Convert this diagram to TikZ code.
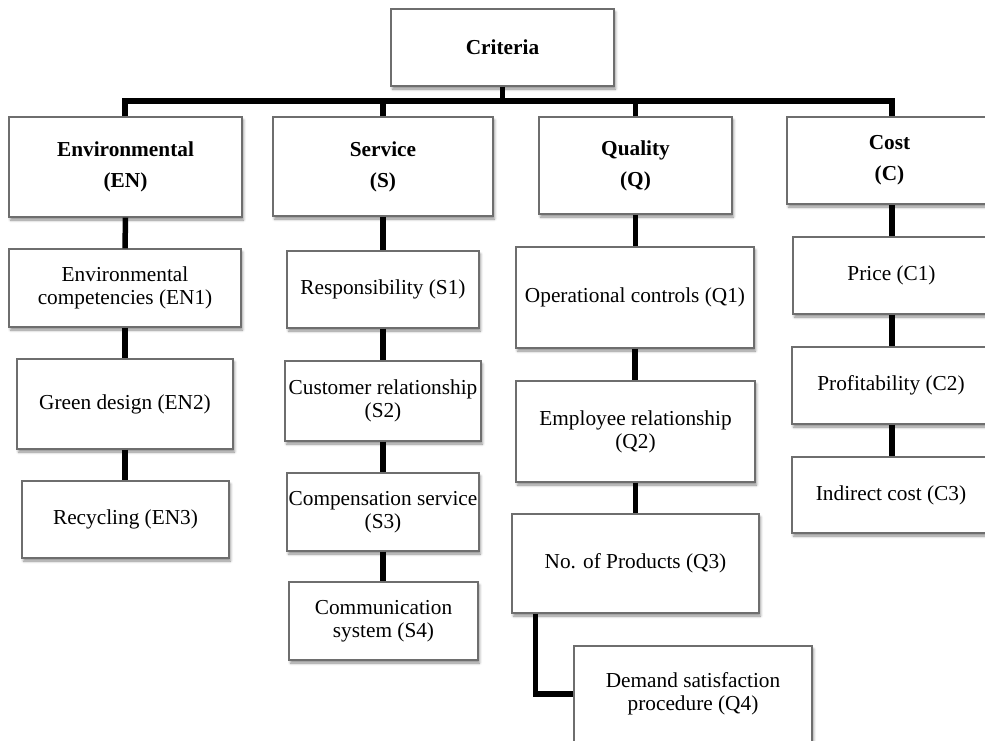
\documentclass[tikz,border=0pt]{standalone}
\usepackage{fontspec}
\setmainfont{Liberation Serif}
\usetikzlibrary{shadows.blur}
\definecolor{boxline}{RGB}{110,110,110}
\begin{document}
\begin{tikzpicture}[x=1pt,y=-1pt,
  box/.style={draw=boxline, line width=1.2pt, fill=white, rectangle, inner sep=0pt, align=center,
    font=\fontsize{21.3}{23}\selectfont,
    blur shadow={shadow xshift=1.5pt, shadow yshift=-3pt, shadow opacity=45, shadow blur radius=2.5pt}},
  head/.style={box, font=\fontsize{21.3}{31}\selectfont\bfseries},
  conn/.style={line width=5.5pt, line join=miter, black}]
\useasboundingbox (0,0) rectangle (985,740);

% top
\node[head, minimum width=223pt, minimum height=77pt] (crit) at (502.5,47.5) {Criteria};
% level 1
\node[head, minimum width=233pt, minimum height=100pt] (EN) at (125.5,167) {Environmental\\(EN)};
\node[head, minimum width=220pt, minimum height=99pt] (S) at (383,166.5) {Service\\(S)};
\node[head, minimum width=193pt, minimum height=97pt] (Q) at (635.5,165.5) {Quality\\(Q)};
\node[head, minimum width=205pt, minimum height=87pt] (C) at (889.5,160.5) {Cost\\(C)};

% bus
\coordinate (busL) at (125,101);
\coordinate (busR) at (892,101);
\draw[conn] (EN.north -| busL) -- (busL) -- (busR) -- (C.north -| busR);
\draw[conn] (crit.south) -- (crit.south |- busL);
\draw[conn] (S.north) -- (S.north |- busL);
\draw[conn] (Q.north) -- (Q.north |- busL);

% Environmental column
\node[box, minimum width=232pt, minimum height=78pt] (EN1) at (125,288) {Environmental\\competencies (EN1)};
\node[box, minimum width=216pt, minimum height=90pt] (EN2) at (125,404) {Green design (EN2)};
\node[box, minimum width=207pt, minimum height=77pt] (EN3) at (125.5,519.5) {Recycling (EN3)};
\draw[conn] (EN.south) -- (EN1.north);
\draw[conn] (EN1.south) -- (EN2.north);
\draw[conn] (EN2.south) -- (EN3.north -| EN2.south);

% Service column
\node[box, minimum width=192pt, minimum height=77pt] (S1) at (383,289.5) {Responsibility (S1)};
\node[box, minimum width=196pt, minimum height=80pt] (S2) at (383,401) {Customer relationship\\(S2)};
\node[box, minimum width=192pt, minimum height=78pt] (S3) at (383,512) {Compensation service\\(S3)};
\node[box, minimum width=189pt, minimum height=78pt] (S4) at (383.5,621) {Communication\\system (S4)};
\draw[conn] (S.south) -- (S1.north);
\draw[conn] (S1.south) -- (S2.north);
\draw[conn] (S2.south) -- (S3.north);
\draw[conn] (S3.south) -- (S4.north -| S3.south);

% Quality column
\node[box, minimum width=238pt, minimum height=101pt] (Q1) at (635,297.5) {Operational controls (Q1)};
\node[box, minimum width=239pt, minimum height=101pt] (Q2) at (635.5,431.5) {Employee relationship\\(Q2)};
\node[box, minimum width=247pt, minimum height=99pt] (Q3) at (635.5,563.5) {No. of Products (Q3)};
\node[box, minimum width=238pt, minimum height=96pt] (Q4) at (693,694) {Demand satisfaction\\procedure (Q4)};
\draw[conn] (Q.south) -- (Q1.north -| Q.south);
\draw[conn] (Q1.south) -- (Q2.north -| Q1.south);
\draw[conn] (Q2.south) -- (Q3.north -| Q2.south);
\draw[conn] ([xshift=24pt]Q3.south west) |- (Q4.west);

% Cost column
\node[box, minimum width=197pt, minimum height=77pt] (C1) at (891.5,275.5) {Price (C1)};
\node[box, minimum width=198pt, minimum height=77pt] (C2) at (891,385.5) {Profitability (C2)};
\node[box, minimum width=198pt, minimum height=76pt] (C3) at (891,495) {Indirect cost (C3)};
\draw[conn] (C1.north -| busR) -- (C.south -| busR);
\draw[conn] (C1.south -| busR) -- (C2.north -| busR);
\draw[conn] (C2.south -| busR) -- (C3.north -| busR);
\end{tikzpicture}
\end{document}
